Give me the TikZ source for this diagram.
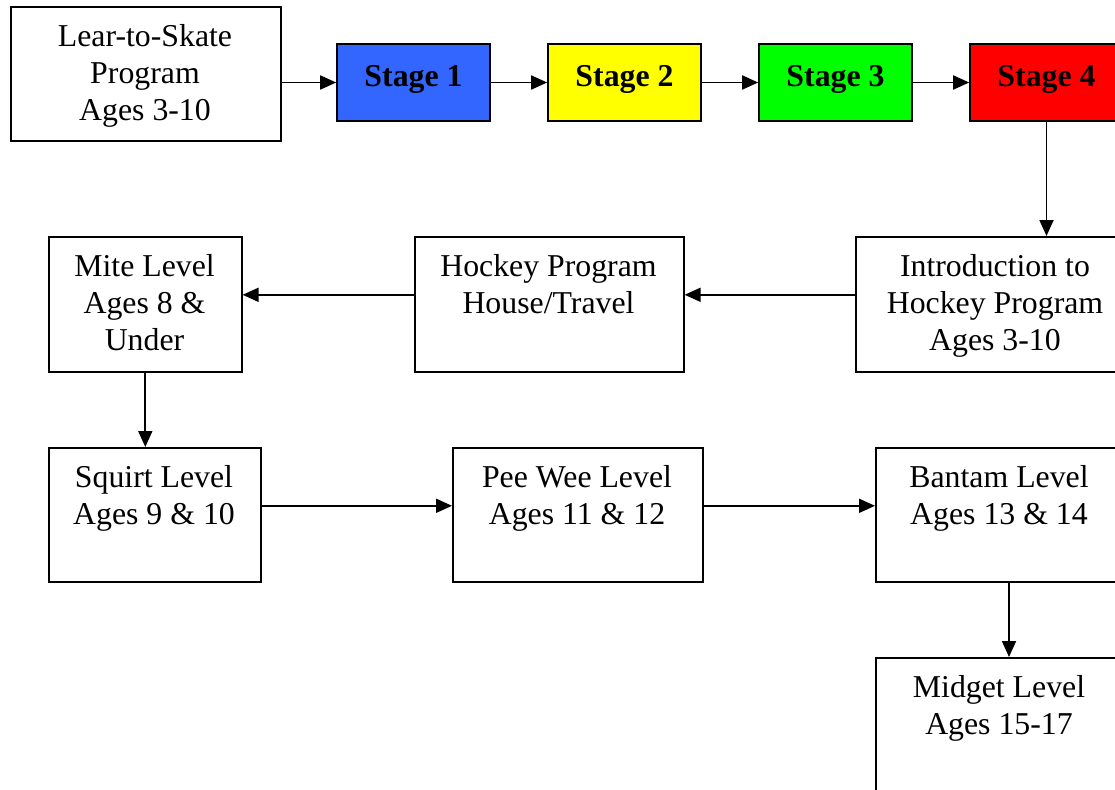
\documentclass[tikz,border=0pt]{standalone}
\usepackage{fontspec}
\setmainfont{Liberation Serif}
\usetikzlibrary{arrows.meta,calc}
\begin{document}
\begin{tikzpicture}[x=1pt,y=-1pt,
  box/.style={draw, line width=1.6pt, inner sep=0pt, anchor=north west, fill=white},
  txt/.style={anchor=north, inner sep=0pt, align=center, font=\fontsize{31.8}{37.3}\selectfont},
  stagebox/.style={draw, line width=1.6pt, inner sep=0pt, minimum width=153pt, minimum height=77pt, text height=21.6pt, text depth=13pt, font=\bfseries\fontsize{31.8}{37.3}\selectfont},
  arr/.style={line width=1.8pt, -{Triangle[length=16pt,width=14pt]}}]
\useasboundingbox (0,0) rectangle (1115,789);
\clip (0,0) rectangle (1115,789);
% top row
\node[box, minimum width=270pt, minimum height=134pt] (lts) at (10,6) {};
\node[txt] (ltsT) at (145,24) {Lear-to-Skate\\Program\\Ages 3-10};
\node[stagebox, fill={rgb,255:red,51;green,102;blue,255}] (s1) at (413.5,82.5) {Stage 1};
\node[stagebox, fill={rgb,255:red,255;green,255;blue,0}] (s2) at (624.5,82.5) {Stage 2};
\node[stagebox, fill={rgb,255:red,0;green,255;blue,0}] (s3) at (835.5,82.5) {Stage 3};
\node[stagebox, fill={rgb,255:red,255;green,0;blue,0}] (s4) at (1046.5,82.5) {Stage 4};
% second row
\node[box, minimum width=280pt, minimum height=135pt] (intro) at (855,236) {};
\node[txt] (introT) at (995,254) {Introduction to\\Hockey Program\\Ages 3-10};
\node[box, minimum width=269pt, minimum height=135pt] (hp) at (414,236) {};
\node[txt] (hpT) at (548.5,254) {Hockey Program\\House/Travel};
\node[box, minimum width=193pt, minimum height=135pt] (mite) at (48,236) {};
\node[txt] (miteT) at (144.5,254) {Mite Level\\Ages 8 \&\\Under};
% third row
\node[box, minimum width=212pt, minimum height=134pt] (sq) at (48,447) {};
\node[txt] (sqT) at (154,465) {Squirt Level\\Ages 9 \& 10};
\node[box, minimum width=250pt, minimum height=134pt] (pw) at (452,447) {};
\node[txt] (pwT) at (577,465) {Pee Wee Level\\Ages 11 \& 12};
\node[box, minimum width=248pt, minimum height=134pt] (ban) at (875,447) {};
\node[txt] (banT) at (999,465) {Bantam Level\\Ages 13 \& 14};
% bottom
\node[box, minimum width=248pt, minimum height=250pt] (mid) at (875,657) {};
\node[txt] (midT) at (999,675) {Midget Level\\Ages 15-17};
% connectors
\draw[arr] (lts.east |- s1.west) -- (s1.west);
\draw[arr] (s1) -- (s2);
\draw[arr] (s2) -- (s3);
\draw[arr] (s3) -- (s4);
\draw[arr] (s4.south) -- (s4.south |- intro.north);
\draw[arr] ([yshift=9.5pt]intro.west) -- ([yshift=9.5pt]hp.east);
\draw[arr] ([yshift=9.5pt]hp.west) -- ([yshift=9.5pt]mite.east);
\draw[arr] (mite.south) -- (mite.south |- sq.north);
\draw[arr] ([yshift=9pt]sq.east) -- ([yshift=9pt]pw.west);
\draw[arr] ([yshift=9pt]pw.east) -- ([yshift=9pt]ban.west);
\coordinate (bd) at ($(ban.south west)+(134,0)$);
\draw[arr] (bd) -- (bd |- mid.north);
\end{tikzpicture}
\end{document}
